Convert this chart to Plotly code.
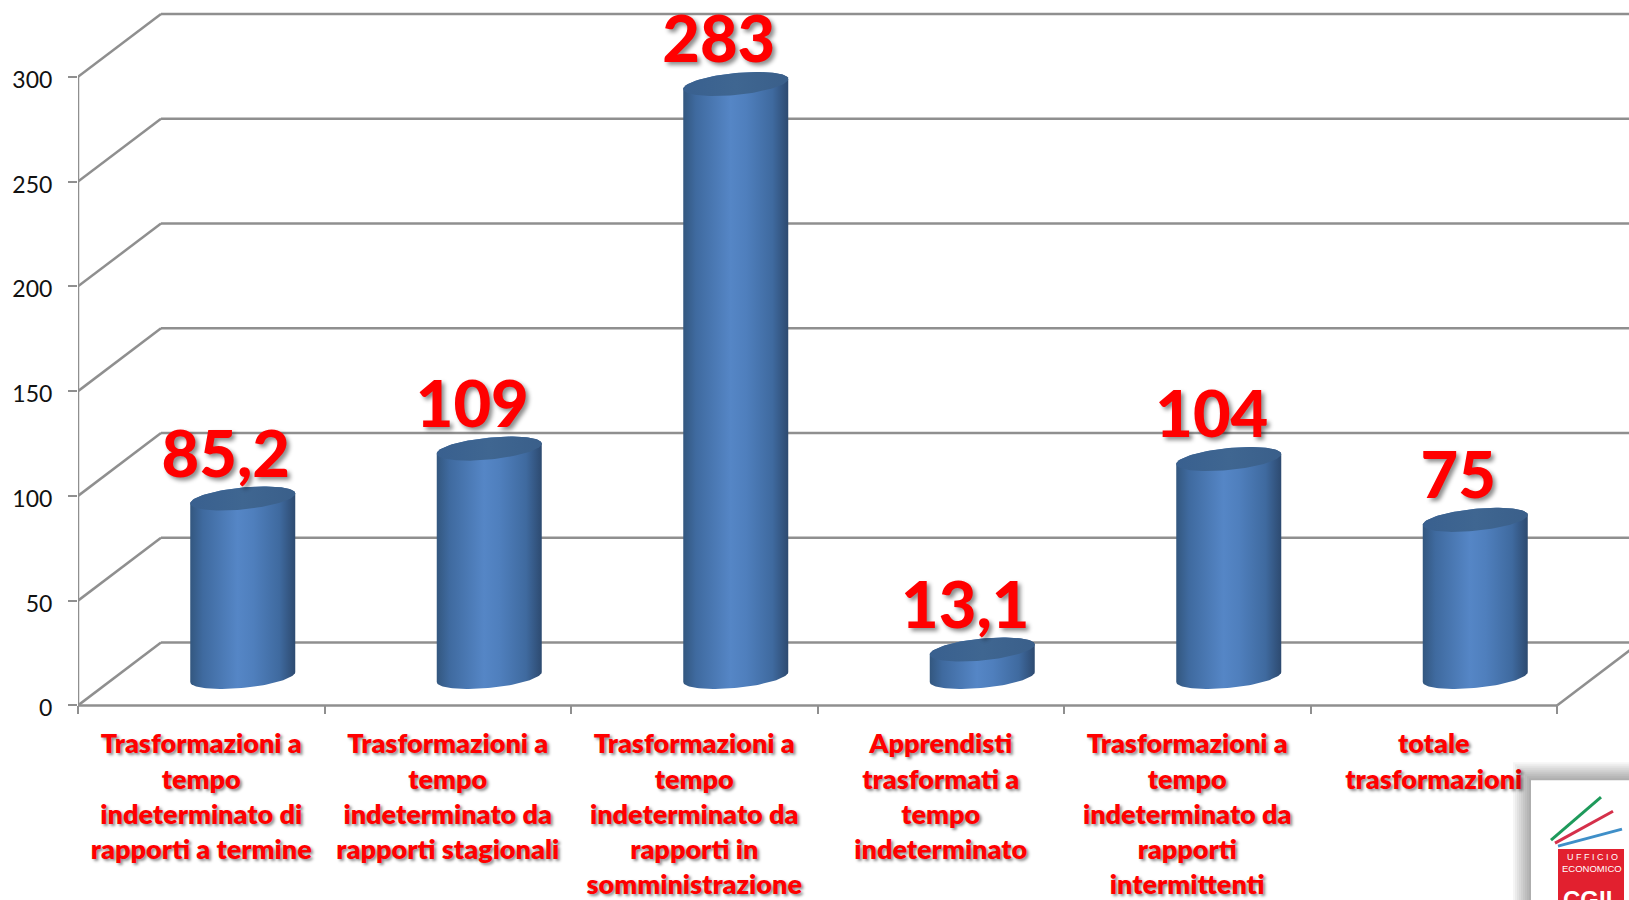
import numpy as np
import plotly.graph_objects as go

categories = ["Trasformazioni a<br>tempo<br>indeterminato di<br>rapporti a termine",
              "Trasformazioni a<br>tempo<br>indeterminato da<br>rapporti stagionali",
              "Trasformazioni a<br>tempo<br>indeterminato da<br>rapporti in<br>somministrazione",
              "Apprendisti<br>trasformati a<br>tempo<br>indeterminato",
              "Trasformazioni a<br>tempo<br>indeterminato da<br>rapporti<br>intermittenti",
              "totale<br>trasformazioni"]
values = [85.2, 109, 283, 13.1, 104, 75]
value_labels = ["85,2", "109", "283", "13,1", "104", "75"]
y_ticks = [0, 50, 100, 150, 200, 250, 300]

W, H = 1629, 900
LEFT = 78
X0PX = 707
PX_CAT = 246.5
PX_UNIT = 2.1
DX = 83 / PX_CAT          # depth offset in category units
DY = 63 / PX_UNIT         # depth offset in value units
FONT = "Lato"
RED = "#ff0000"
GRID = "#8f8f8f"
SHADOW = "3px 3px 4px rgba(0,0,0,0.45)"

x_range = [-0.5, -0.5 + (W - LEFT) / PX_CAT]
y_range = [-(H - X0PX) / PX_UNIT, X0PX / PX_UNIT]

fig = go.Figure()

# 3D walls
shapes = []
def line(x0, y0, x1, y1):
    shapes.append(dict(type="line", xref="x", yref="y", x0=x0, y0=y0, x1=x1, y1=y1,
                       line=dict(color=GRID, width=2.5), layer="below"))
for v in y_ticks:
    line(-0.5, v, -0.5 + DX, v + DY)
    line(-0.5 + DX, v + DY, 5.5 + DX, v + DY)
line(-0.5, 0, -0.5, 300)
line(-0.5, 0, 5.5, 0)
line(5.5, 0, 5.5 + DX, DY)

# cylinders
A = 52.5 / PX_CAT
B = 11 / PX_UNIT
K = 5 / PX_UNIT
t_top = np.linspace(0, 2 * np.pi, 121)
body_scale = [[0, "#33577f"], [0.12, "#3f6a9f"], [0.45, "#5586c6"], [0.6, "#4f7fbd"],
              [0.85, "#3f6a9f"], [1, "#2d4a70"]]
cap_scale = [[0, "#39608f"], [0.5, "#3f6691"], [1, "#3a5f8a"]]
BASE = DY / 2 - 3 / PX_UNIT
for i, v in enumerate(values):
    cx = i + DX / 2
    y0 = BASE
    y1 = y0 + v
    tb = np.linspace(np.pi, 2 * np.pi, 60)  # left -> right, via bottom
    xb = cx + A * np.cos(tb)
    yb = y0 + B * np.sin(tb) + K * np.cos(tb)
    tt = np.linspace(0, np.pi, 60)          # right -> left, via top
    xt = cx + A * np.cos(tt)
    yt = y1 + B * np.sin(tt) + K * np.cos(tt)
    fig.add_trace(go.Scatter(x=np.r_[xb, xt, xb[0]], y=np.r_[yb, yt, yb[0]], mode="lines",
                             fill="toself", line=dict(width=0, color="rgba(0,0,0,0)"),
                             fillgradient=dict(type="horizontal", colorscale=body_scale),
                             hoverinfo="skip", showlegend=False))
    fig.add_trace(go.Scatter(x=cx + A * np.cos(t_top),
                             y=y1 + B * np.sin(t_top) + K * np.cos(t_top), mode="lines",
                             fill="toself", line=dict(width=0, color="rgba(0,0,0,0)"),
                             fillgradient=dict(type="horizontal", colorscale=cap_scale),
                             hoverinfo="skip", showlegend=False))

# value labels
fig.add_trace(go.Scatter(
    x=[i + DX / 2 - 17 / PX_CAT for i in range(len(values))],
    y=[v + BASE + 38 / PX_UNIT for v in values],
    mode="text", text=value_labels, textposition="middle center", cliponaxis=False,
    textfont=dict(family=FONT, size=65, color=RED, weight=900, shadow=SHADOW),
    showlegend=False, hoverinfo="skip"))

# logo
def prect(x0, y0, x1, y1, **kw):
    return dict(type="rect", xref="paper", yref="paper", x0=(x0 - LEFT) / (W - LEFT), x1=(x1 - LEFT) / (W - LEFT),
                y0=1 - y0 / H, y1=1 - y1 / H, layer="above", line=dict(width=0), **kw)
def pline(x0, y0, x1, y1, color):
    return dict(type="line", xref="paper", yref="paper", x0=(x0 - LEFT) / (W - LEFT), x1=(x1 - LEFT) / (W - LEFT),
                y0=1 - y0 / H, y1=1 - y1 / H, layer="above", line=dict(width=3, color=color))
for s in range(18, 0, -2):
    shapes.append(prect(1531 - s, 782 - s, W + 5, H + 5, fillcolor="rgba(0,0,0,0.04)"))
shapes.append(prect(1531, 782, W + 5, H + 5, fillcolor="#ffffff"))
shapes.append(pline(1551, 842, 1601, 799, "#1e9a5b"))
shapes.append(pline(1555, 845, 1613, 813, "#d5304a"))
shapes.append(pline(1558, 848, 1622, 831, "#3f8fc8"))
shapes.append(prect(1558, 851, 1624, 905, fillcolor="#e2202f"))

def pann(text, x, y, size, weight=400):
    return dict(text=text, xref="paper", yref="paper", x=(x - LEFT) / (W - LEFT), y=1 - y / H,
                showarrow=False, xanchor="center", yanchor="middle",
                font=dict(family="Liberation Sans", size=size, color="#ffffff", weight=weight))
annotations = [pann("U F F I C I O", 1592, 859, 9), pann("ECONOMICO", 1592, 870, 9.5),
               pann("CGIL", 1591, 902, 24, 700)]

fig.update_layout(
    width=W, height=H, autosize=False,
    margin=dict(l=LEFT, r=0, t=0, b=0),
    paper_bgcolor="white", plot_bgcolor="white", showlegend=False,
    shapes=shapes, annotations=annotations,
    xaxis=dict(range=x_range, anchor="free", position=(H - X0PX) / H, domain=[0, 1],
               tickmode="array", tickvals=list(range(len(categories))), ticktext=categories,
               ticks="", showgrid=False, zeroline=False, showline=False, tickangle=0,
               ticklabelstandoff=20,
               tickfont=dict(family=FONT, size=27, color=RED, weight=800, shadow="2px 2px 3px rgba(0,0,0,0.45)"),
               minor=dict(tickmode="array", tickvals=[i - 0.5 for i in range(len(categories) + 1)],
                          ticks="outside", ticklen=8, tickcolor=GRID, tickwidth=2, showgrid=False)),
    yaxis=dict(range=y_range, domain=[0, 1], tickmode="array", tickvals=y_ticks,
               ticks="outside", ticklen=9, tickcolor=GRID, tickwidth=2,
               showgrid=False, zeroline=False, showline=False,
               ticklabelstandoff=11, ticklabelshift=3,
               tickfont=dict(family=FONT, size=23, color="#111111")),
)
fig.write_html("out.html", config=dict(displayModeBar=False),
               post_script="document.body.style.margin='0';document.body.style.overflow='hidden';")
